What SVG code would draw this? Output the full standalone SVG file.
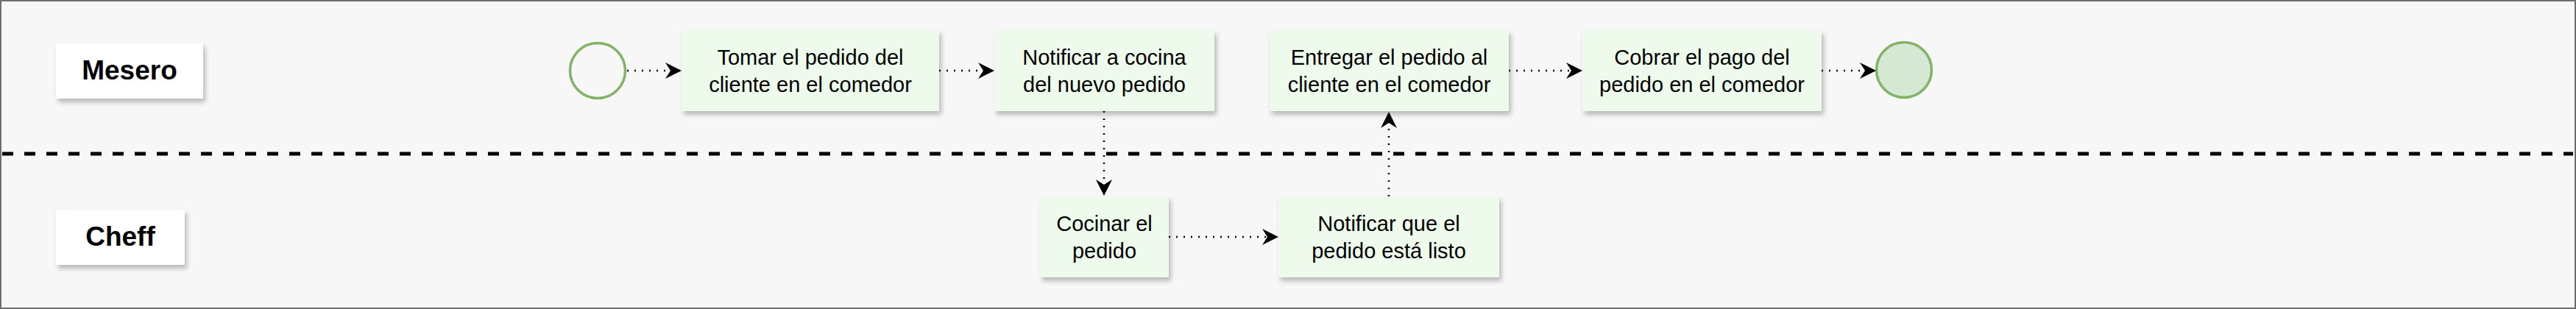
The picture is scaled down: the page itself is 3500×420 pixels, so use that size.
<svg xmlns="http://www.w3.org/2000/svg" width="3500" height="420" viewBox="0 0 3500 420">
<defs>
<filter id="sh" x="-10%" y="-20%" width="130%" height="150%">
<feDropShadow dx="3" dy="5" stdDeviation="3" flood-color="#000" flood-opacity="0.25"/>
</filter>
<marker id="ah" markerUnits="userSpaceOnUse" markerWidth="22" markerHeight="22" viewBox="0 0 22 22" refX="22" refY="11" orient="auto">
<path d="M0,0 L22,11 L0,22 L7,11 Z" fill="#000"/>
</marker>
<style>
.lane{fill:#ffffff;filter:url(#sh)}
.lanet{font-family:"Liberation Sans",Arial,sans-serif;font-weight:bold;font-size:37px;fill:#000;text-anchor:middle}
.task{fill:#eefaec;filter:url(#sh)}
.tt{font-family:"Liberation Sans",Arial,sans-serif;font-size:29px;fill:#000;text-anchor:middle}
.conn{fill:none;stroke:#000;stroke-width:2.5;stroke-dasharray:2 8;marker-end:url(#ah)}
</style>
</defs>
<rect x="1" y="1" width="3498" height="418" fill="#f7f7f7" stroke="#6e6e6e" stroke-width="2"/>
<line x1="3" y1="209" x2="3496" y2="209" stroke="#000" stroke-width="5" stroke-dasharray="15 15"/>
<g id="lane-mesero">
<rect class="lane" x="76" y="59" width="200" height="75"/>
<text class="lanet" x="176" y="108">Mesero</text>
</g>
<g id="lane-cheff">
<rect class="lane" x="76" y="285" width="175" height="75"/>
<text class="lanet" x="163.5" y="334">Cheff</text>
</g>
<g id="start">
<circle cx="812" cy="96" r="37.5" fill="none" stroke="#82b366" stroke-width="3.5"/>
</g>
<g id="tomar">
<rect class="task" x="926" y="41" width="350" height="110"/>
<text class="tt" x="1101" y="88">Tomar el pedido del</text>
<text class="tt" x="1101" y="125">cliente en el comedor</text>
</g>
<g id="notificar-cocina">
<rect class="task" x="1351" y="41" width="299" height="110"/>
<text class="tt" x="1500.5" y="88">Notificar a cocina</text>
<text class="tt" x="1500.5" y="125">del nuevo pedido</text>
</g>
<g id="entregar">
<rect class="task" x="1725" y="41" width="325" height="110"/>
<text class="tt" x="1887.5" y="88">Entregar el pedido al</text>
<text class="tt" x="1887.5" y="125">cliente en el comedor</text>
</g>
<g id="cobrar">
<rect class="task" x="2150" y="41" width="325" height="110"/>
<text class="tt" x="2312.5" y="88">Cobrar el pago del</text>
<text class="tt" x="2312.5" y="125">pedido en el comedor</text>
</g>
<g id="end">
<circle cx="2587" cy="95" r="37.5" fill="#d5e8d4" stroke="#82b366" stroke-width="3.5"/>
</g>
<g id="cocinar">
<rect class="task" x="1413" y="267" width="175" height="110"/>
<text class="tt" x="1500.5" y="314">Cocinar el</text>
<text class="tt" x="1500.5" y="351">pedido</text>
</g>
<g id="notificar-listo">
<rect class="task" x="1737" y="267" width="300" height="110"/>
<text class="tt" x="1887" y="314">Notificar que el</text>
<text class="tt" x="1887" y="351">pedido está listo</text>
</g>
<g id="connectors">
<path class="conn" d="M852,96 L926,96"/>
<path class="conn" d="M1276,96 L1351,96"/>
<path class="conn" d="M1500,151 L1500,266"/>
<path class="conn" d="M1588,322 L1737,322"/>
<path class="conn" d="M1887,267 L1887,152"/>
<path class="conn" d="M2050,96 L2150,96"/>
<path class="conn" d="M2475,96 L2549,96"/>
</g>
</svg>
